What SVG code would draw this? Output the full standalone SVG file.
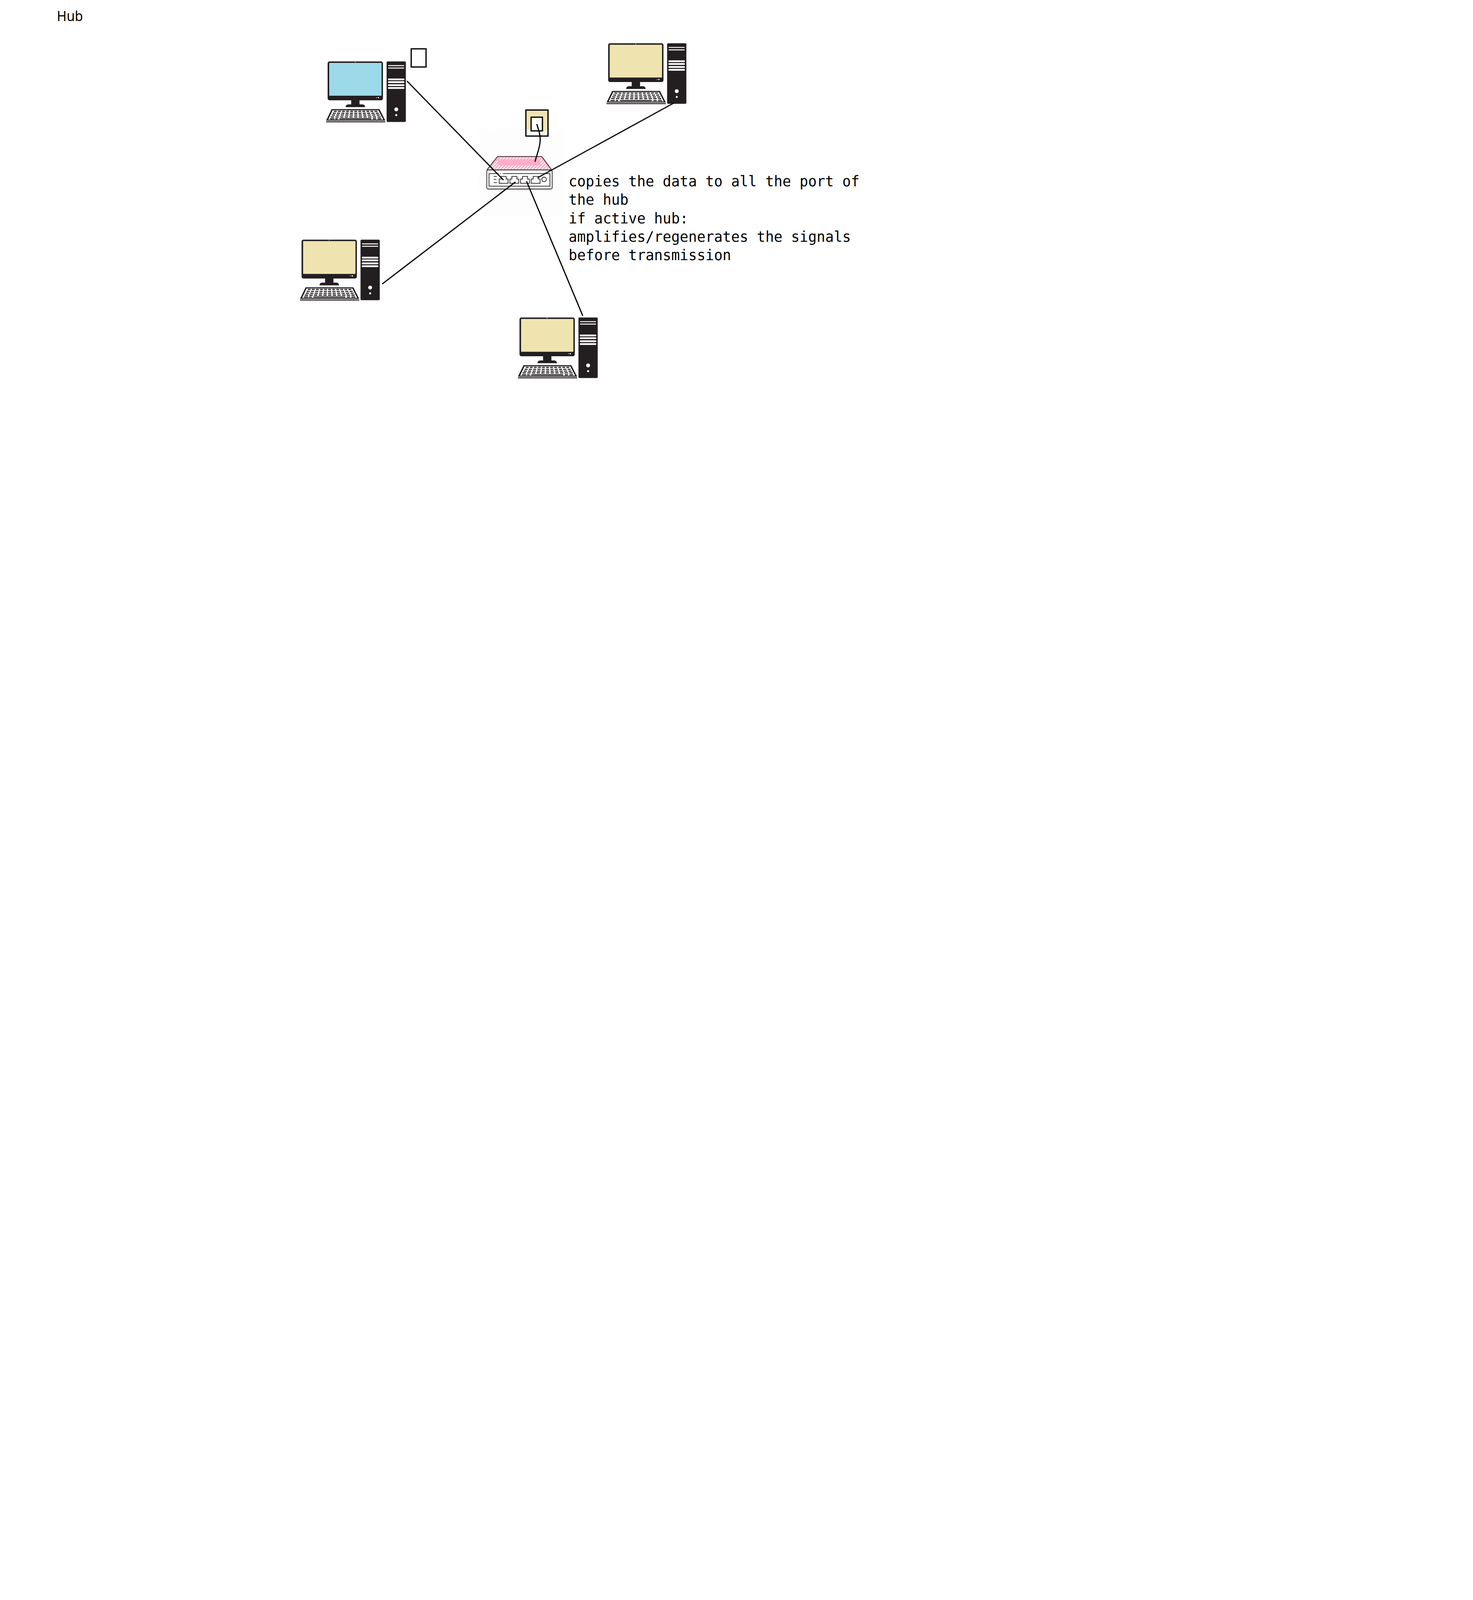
<svg xmlns="http://www.w3.org/2000/svg" xmlns:xlink="http://www.w3.org/1999/xlink" width="3772" height="4244" viewBox="0 0 3772 4244">
<style>
.dark{fill:#231f20}
.w{fill:#fff}
.wl{stroke:#fff;stroke-linecap:round;fill:none}
.k{stroke:#231f20;stroke-width:2.8;fill:none}
.conn{stroke:#000;stroke-width:3;fill:none;stroke-linecap:butt}
.box{stroke:#000;stroke-width:3.2}
.hl{stroke:#231f20;stroke-width:1.8;fill:none}
.beige{fill:#efe3b0}
.hub{font-family:"Noto Sans","Open Sans",sans-serif;font-size:36px;fill:#000}
.mono{font-family:"DejaVu Sans Mono","Liberation Mono",monospace;font-size:36.4px;fill:#000}
</style>
<defs>
<pattern id="stripes" width="5.9" height="5.9" patternUnits="userSpaceOnUse" patternTransform="rotate(45)"><rect width="2.2" height="5.9" fill="#fff"/></pattern>
<pattern id="faint" width="5.9" height="5.9" patternUnits="userSpaceOnUse" patternTransform="rotate(45)"><rect width="2.2" height="5.9" fill="#fbfbfb"/></pattern>
<g id="pc">
<rect class="dark" x="0" y="0" width="141.7" height="99.4" rx="5"/>
<rect x="4" y="3.7" width="134" height="84" rx="1"/>
<circle class="w" cx="70.8" cy="1.8" r="0.9"/>
<circle class="w" cx="125.3" cy="92.7" r="1"/>
<circle class="w" cx="130" cy="92.7" r="1.7"/>
<rect class="dark" x="60.3" y="99" width="21.4" height="13"/>
<path class="dark" d="M46 117c0-4 3-7 7-7h36c4 0 7 3 7 7z"/>
<path class="dark" d="M10.3 122H132.700L147.700 151.500H-4z"/>
<path class="w" d="M13 125H130L142.500 149H1.500z"/>
<g class="k">
<path d="M16 127.700H127.700" stroke-dasharray="7.500 2.900"/>
<path d="M13 132.700H131" stroke-dasharray="7.900 3.100"/>
<path d="M10.500 137.400H133.500" stroke-dasharray="8.200 3.300"/>
<path d="M8 142H136" stroke-dasharray="8.600 3.350"/>
<path d="M6 146.700H17M19.300 146.700H26M30.300 146.700H112M116 146.700H124.300M127.700 146.700H137.700"/>
</g>
<rect x="-4" y="153" width="151.700" height="3" fill="#3a3738"/>
<rect class="dark" x="151" y="0" width="49.300" height="155" rx="3"/>
<g class="wl">
<path d="M156 10.700H195M156 17H195" stroke-width="2.400"/>
<path d="M156.500 46H194.500M156.500 53H194.500M156.500 60.700H194.500M156.500 68H194.500" stroke-width="4.500"/>
</g>
<circle class="w" cx="175.700" cy="122.700" r="5"/>
<circle class="w" cx="175.700" cy="137.400" r="2.600"/>
</g>
<path id="port" d="M0 17.600V6.700H5V0H18V6.700H22.700V17.600Z"/>
</defs>

<g id="title"><text class="hub" x="145.500" y="54" textLength="67" lengthAdjust="spacingAndGlyphs">Hub</text></g>

<g id="note">
<text class="mono" x="1456" y="477">copies the data to all the port of</text>
<text class="mono" x="1456" y="524">the hub</text>
<text class="mono" x="1456" y="571.500">if active hub:</text>
<text class="mono" x="1456" y="619">amplifies/regenerates the signals</text>
<text class="mono" x="1456" y="666">before transmission</text>
</g>

<g id="hub-node">
<rect x="1222" y="330" width="222" height="224" fill="url(#faint)"/>
<path d="M1273.300 400.700H1387.300L1412.700 435H1246.700Z" fill="#ffadc8"/>
<path d="M1277 403.300H1385L1408 434H1252ZM1275 407.500V423.500H1383.500V407.500Z" fill="url(#stripes)" fill-rule="evenodd"/>
<path class="hl" d="M1246.700 435L1273.300 401.500Q1274 400.700 1276 400.700H1385Q1387 400.700 1388 401.500L1412.700 435"/>
<rect class="hl" x="1246.500" y="435" width="167.500" height="49" rx="4"/>
<path class="hl" d="M1252.300 444.300H1277M1280 444.300H1282M1287.700 444.300H1408.300V476.700H1252.300V443.400"/>
<path class="hl" d="M1264.300 451.700H1272.300M1264.300 459.300H1271M1264.300 467.300H1272.300"/>
<use xlink:href="#port" href="#port" class="hl" transform="translate(1278.300 451.700)"/>
<use xlink:href="#port" href="#port" class="hl" transform="translate(1305.700 451.700)"/>
<use xlink:href="#port" href="#port" class="hl" transform="translate(1333 451.700)"/>
<use xlink:href="#port" href="#port" class="hl" transform="translate(1360.300 451.700)"/>
<circle class="hl" cx="1393.300" cy="459.300" r="5.800"/>
</g>

<g id="data-packet-hub">
<rect class="beige" x="1346.700" y="281.700" width="56.600" height="66.600"/>
<path class="w" d="M1347 333L1357 331V337H1391L1403.300 331V348.300H1347Z"/>
<path class="beige" d="M1385 346.700L1398.300 334.300H1400L1388.300 346.700ZM1403.300 340V346.700H1397.300Z"/>
<rect class="box" x="1346.700" y="281.700" width="56.600" height="66.600" fill="none"/>
<rect class="box" x="1360" y="300" width="29" height="35" fill="#fff"/>
</g>

<g id="data-packet-source"><rect class="box" x="1053" y="125" width="38" height="46.500" fill="#fff"/></g>

<g id="pc-source"><use xlink:href="#pc" href="#pc" fill="#9cdaea" transform="translate(839 157.300)"/></g>
<g id="pc-top-right"><use xlink:href="#pc" href="#pc" fill="#efe3b0" transform="translate(1557.300 110.700)"/></g>
<g id="pc-left"><use xlink:href="#pc" href="#pc" fill="#efe3b0" transform="translate(772.200 613.500)"/></g>
<g id="pc-bottom">
<rect x="1470" y="816" width="1.800" height="92" fill="#efe3b0"/>
<use xlink:href="#pc" href="#pc" fill="#efe3b0" transform="translate(1330.300 812.700)"/>
</g>

<g id="connectors">
<path class="conn" d="M1042 207.300L1289.300 461"/>
<path class="conn" d="M1725 264L1376.700 455"/>
<path class="conn" d="M978.800 727L1320 465.700"/>
<path class="conn" d="M1348.300 464L1492.300 808.300"/>
<path class="conn" d="M1374.500 317.500C1379 332 1384 346 1383.300 360C1382.500 378 1376 392 1370 414"/>
</g>
</svg>
